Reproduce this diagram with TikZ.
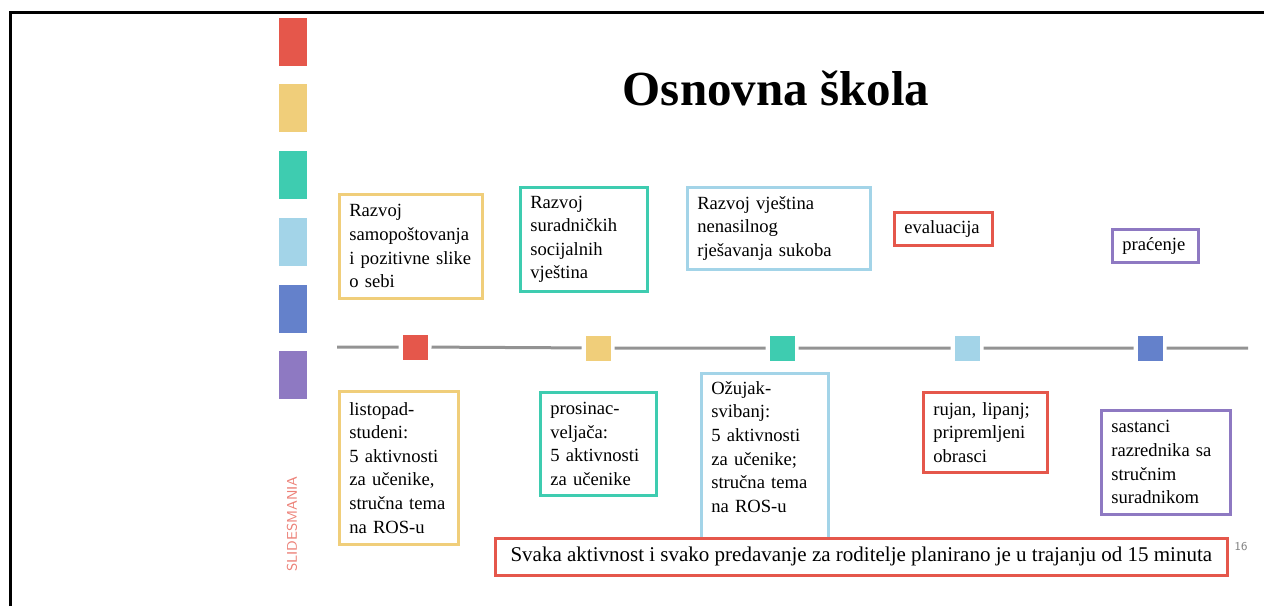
\documentclass[tikz,border=0pt]{standalone}
\usepackage{fontspec}
\setmainfont{Liberation Serif}
\usetikzlibrary{positioning}

\definecolor{sred}{HTML}{E5574B}
\definecolor{syellow}{HTML}{F0CE7A}
\definecolor{steal}{HTML}{3ECCB0}
\definecolor{slight}{HTML}{A3D4E8}
\definecolor{sblue}{HTML}{6481CB}
\definecolor{spurple}{HTML}{8E79C2}

\begin{document}
\begin{tikzpicture}[x=0.5pt,y=-0.5pt,
  box/.style={draw=#1,line width=1.3pt,fill=white,anchor=north west,align=left,
    inner xsep=5pt,inner ysep=4pt,font=\fontsize{9.3}{11.8}\selectfont},
  stopsq/.style={fill=#1,minimum width=12.5pt,minimum height=12.5pt,inner sep=0pt,outer sep=2pt},
  sidebar/.style={fill=#1,minimum width=14pt,minimum height=24pt,inner sep=0pt}]
\useasboundingbox (0,0) rectangle (1264,606);
% page frame
\draw[line width=1.5pt] (10,606) -- (10,12) -- (1264,12);
% side colour bars
\foreach \c/\y [count=\i] in {sred/42,syellow/108,steal/175,slight/242,sblue/309,spurple/375}
  \node[sidebar=\c] (bar\i) at (293,\y) {};
\node[rotate=90,text=sred!75,font=\fontsize{7}{8}\selectfont\sffamily] (brand) at (292,524) {SLIDESMANIA};
% title
\node[font=\fontsize{24.5}{28}\selectfont\bfseries] (title) at (776,88) {Osnovna škola};
% timeline
\node[stopsq=sred] (s1) at (415,347) {};
\node[stopsq=syellow] (s2) at (598,348) {};
\node[stopsq=steal] (s3) at (782,348) {};
\node[stopsq=slight] (s4) at (967,348) {};
\node[stopsq=sblue] (s5) at (1150,348) {};
\coordinate (tstart) at (337,347);
\coordinate (tend) at (1248,348);
\draw[line width=1.5pt,gray!85] (tstart) -- (s1) -- (s2) -- (s3) -- (s4) -- (s5) -- (tend);
% topics above the line
\node[box=syellow,text width=61.5pt,minimum height=52pt] (top1) at (338,193)
  {Razvoj\\samopoštovanja\\i pozitivne slike\\o sebi};
\node[box=steal,text width=53.5pt,minimum height=52pt] (top2) at (519,186)
  {Razvoj\\suradničkih\\socijalnih\\vještina};
\node[box=slight,text width=81.5pt,minimum height=41pt] (top3) at (686,186)
  {Razvoj vještina\\nenasilnog\\rješavanja sukoba};
\node[box=sred,text width=39pt,minimum height=16.5pt] (top4) at (893,211) {evaluacija};
\node[box=spurple,text width=33pt,minimum height=16.5pt] (top5) at (1111,228) {praćenje};
% dates below the line
\node[box=syellow,text width=49.5pt,minimum height=76.5pt] (bot1) at (338,390)
  {listopad-\\studeni:\\5 aktivnosti\\za učenike,\\stručna tema\\na ROS-u};
\node[box=steal,text width=48pt,minimum height=51.5pt] (bot2) at (539,391)
  {prosinac-\\veljača:\\5 aktivnosti\\za učenike};
\node[box=slight,text width=53.5pt,minimum height=84pt] (bot3) at (700,372)
  {Ožujak-\\svibanj:\\5 aktivnosti\\za učenike;\\stručna tema\\na ROS-u\\~};
\node[box=sred,text width=52pt,minimum height=40pt] (bot4) at (922,391)
  {rujan, lipanj;\\pripremljeni\\obrasci};
\node[box=spurple,text width=54.5pt,minimum height=52pt] (bot5) at (1100,409)
  {sastanci\\razrednika sa\\stručnim\\suradnikom};
% note
\node[box=sred,minimum width=366pt,minimum height=18.5pt,font=\fontsize{10.5}{12}\selectfont] (note) at (494,537)
  {Svaka aktivnost i svako predavanje za roditelje planirano je u trajanju od 15 minuta};
\node[text=gray,font=\fontsize{6}{7}\selectfont\sffamily] (page) at (1241,547) {16};
\end{tikzpicture}
\end{document}
